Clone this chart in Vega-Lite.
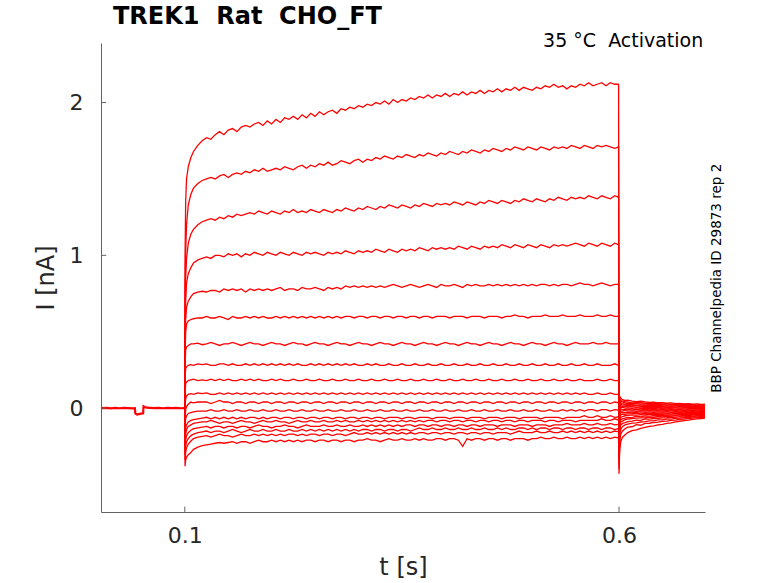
{
  "$schema": "https://vega.github.io/schema/vega-lite/v6.json",
  "width": 604,
  "height": 469,
  "autosize": {"type": "none"},
  "padding": {"left": 101, "top": 43, "right": 73, "bottom": 71},
  "background": "white",
  "title": {
    "text": "TREK1\u00a0 Rat\u00a0 CHO_FT",
    "anchor": "start",
    "frame": "group",
    "dx": 12,
    "dy": 24,
    "offset": 8,
    "baseline": "alphabetic",
    "font": "DejaVu Sans",
    "fontSize": 24,
    "fontWeight": "bold",
    "color": "black"
  },
  "config": {
    "view": {"stroke": null},
    "axis": {
      "grid": false,
      "ticks": false,
      "domainColor": "#636363",
      "domainWidth": 1,
      "labelColor": "#262626",
      "titleColor": "#262626",
      "labelFont": "DejaVu Sans",
      "titleFont": "DejaVu Sans",
      "labelFontSize": 22,
      "titleFontSize": 24,
      "titleFontWeight": "normal"
    }
  },
  "datasets": {
    "ticks": [
      {"t": 0.1, "t2": 0.1, "I": -0.68, "I2": -0.645},
      {"t": 0.6, "t2": 0.6, "I": -0.68, "I2": -0.645},
      {"t": 0.0035, "t2": 0.0095, "I": 0, "I2": 0},
      {"t": 0.0035, "t2": 0.0095, "I": 1, "I2": 1},
      {"t": 0.0035, "t2": 0.0095, "I": 2, "I2": 2}
    ],
    "hold": [
      {"t": 0.0035, "I": 0.0}, {"t": 0.01, "I": 0.002}, {"t": 0.015, "I": -0.002}, {"t": 0.02, "I": 0.001},
      {"t": 0.025, "I": -0.001}, {"t": 0.03, "I": 0.002}, {"t": 0.035, "I": 0.0}, {"t": 0.04, "I": -0.002},
      {"t": 0.0425, "I": -0.001}, {"t": 0.043, "I": -0.035}, {"t": 0.045, "I": -0.042}, {"t": 0.048, "I": -0.038},
      {"t": 0.05, "I": -0.036}, {"t": 0.052, "I": -0.034}, {"t": 0.0525, "I": 0.012}, {"t": 0.054, "I": 0.008},
      {"t": 0.056, "I": 0.003}, {"t": 0.06, "I": 0.002}, {"t": 0.065, "I": 0.0}, {"t": 0.07, "I": 0.002},
      {"t": 0.075, "I": -0.001}, {"t": 0.08, "I": 0.001}, {"t": 0.085, "I": 0.0}, {"t": 0.09, "I": 0.002},
      {"t": 0.095, "I": -0.001}, {"t": 0.1, "I": 0.0}
    ],
    "steps": [
      {"t":0.1,"a":0,"b":0,"c":0,"d":0,"e":0,"f":0,"g":0,"h":0,"i":0,"j":0,"k":0,"l":0,"m":0,"n":0,"o":0,"p":0,"q":0,"r":0},
      {"t":0.1003,"a":1.0,"b":0.8,"c":0.62,"d":0.5,"e":0.4,"f":0.34,"g":0.28,"h":0.2,"i":0.1,"j":0.02,"k":-0.06,"l":-0.12,"m":-0.18,"n":-0.22,"o":-0.26,"p":-0.3,"q":-0.34,"r":-0.38},
      {"t":0.101,"a":1.35,"b":1.02,"c":0.85,"d":0.7,"e":0.58,"f":0.5,"g":0.38,"h":0.26,"i":0.16,"j":0.06,"k":-0.01,"l":-0.07,"m":-0.13,"n":-0.17,"o":-0.21,"p":-0.25,"q":-0.29,"r":-0.34},
      {"t":0.102,"a":1.5,"b":1.2,"c":0.98,"d":0.82,"e":0.66,"f":0.55,"g":0.4,"h":0.27,"i":0.17,"j":0.08,"k":0.01,"l":-0.05,"m":-0.11,"n":-0.14,"o":-0.18,"p":-0.22,"q":-0.26,"r":-0.32},
      {"t":0.104,"a":1.58,"b":1.33,"c":1.08,"d":0.88,"e":0.7,"f":0.57,"g":0.41,"h":0.28,"i":0.18,"j":0.09,"k":0.025,"l":-0.035,"m":-0.09,"n":-0.12,"o":-0.16,"p":-0.2,"q":-0.235,"r":-0.305},
      {"t":0.107,"a":1.64,"b":1.4,"c":1.14,"d":0.92,"e":0.73,"f":0.58,"g":0.42,"h":0.285,"i":0.185,"j":0.095,"k":0.04,"l":-0.03,"m":-0.08,"n":-0.11,"o":-0.145,"p":-0.18,"q":-0.215,"r":-0.29},
      {"t":0.11,"a":1.68,"b":1.44,"c":1.17,"d":0.95,"e":0.75,"f":0.585,"g":0.42,"h":0.28,"i":0.19,"j":0.09,"k":0.035,"l":-0.025,"m":-0.075,"n":-0.1,"o":-0.135,"p":-0.17,"q":-0.2,"r":-0.27},
      {"t":0.115,"a":1.72,"b":1.47,"c":1.2,"d":0.97,"e":0.76,"f":0.59,"g":0.425,"h":0.29,"i":0.18,"j":0.1,"k":0.04,"l":-0.02,"m":-0.07,"n":-0.095,"o":-0.13,"p":-0.16,"q":-0.19,"r":-0.255},
      {"t":0.12,"a":1.75,"b":1.49,"c":1.22,"d":0.98,"e":0.765,"f":0.59,"g":0.415,"h":0.285,"i":0.185,"j":0.095,"k":0.04,"l":-0.02,"m":-0.065,"n":-0.09,"o":-0.125,"p":-0.155,"q":-0.185,"r":-0.245},
      {"t":0.125,"a":1.77,"b":1.5,"c":1.23,"d":0.99,"e":0.76,"f":0.6,"g":0.42,"h":0.29,"i":0.18,"j":0.1,"k":0.04,"l":-0.02,"m":-0.06,"n":-0.09,"o":-0.12,"p":-0.15,"q":-0.18,"r":-0.24},
      {"t":0.13,"a":1.76,"b":1.51,"c":1.24,"d":0.98,"e":0.77,"f":0.59,"g":0.43,"h":0.28,"i":0.19,"j":0.09,"k":0.03,"l":-0.01,"m":-0.07,"n":-0.08,"o":-0.13,"p":-0.16,"q":-0.19,"r":-0.235},
      {"t":0.135,"a":1.79,"b":1.5,"c":1.23,"d":1.0,"e":0.77,"f":0.59,"g":0.42,"h":0.28,"i":0.18,"j":0.09,"k":0.04,"l":-0.02,"m":-0.06,"n":-0.09,"o":-0.12,"p":-0.15,"q":-0.18,"r":-0.23},
      {"t":0.14,"a":1.81,"b":1.52,"c":1.25,"d":1.0,"e":0.76,"f":0.6,"g":0.41,"h":0.29,"i":0.19,"j":0.1,"k":0.05,"l":-0.02,"m":-0.07,"n":-0.1,"o":-0.12,"p":-0.15,"q":-0.17,"r":-0.225},
      {"t":0.145,"a":1.79,"b":1.53,"c":1.24,"d":0.99,"e":0.78,"f":0.59,"g":0.42,"h":0.29,"i":0.18,"j":0.09,"k":0.04,"l":-0.01,"m":-0.06,"n":-0.09,"o":-0.13,"p":-0.16,"q":-0.18,"r":-0.23},
      {"t":0.15,"a":1.82,"b":1.51,"c":1.26,"d":1.01,"e":0.77,"f":0.58,"g":0.42,"h":0.28,"i":0.19,"j":0.1,"k":0.04,"l":-0.02,"m":-0.07,"n":-0.09,"o":-0.12,"p":-0.15,"q":-0.18,"r":-0.225},
      {"t":0.155,"a":1.83,"b":1.53,"c":1.25,"d":1.0,"e":0.78,"f":0.6,"g":0.43,"h":0.29,"i":0.18,"j":0.09,"k":0.03,"l":-0.02,"m":-0.06,"n":-0.1,"o":-0.12,"p":-0.14,"q":-0.19,"r":-0.22},
      {"t":0.16,"a":1.81,"b":1.54,"c":1.27,"d":1.01,"e":0.77,"f":0.59,"g":0.42,"h":0.28,"i":0.18,"j":0.1,"k":0.04,"l":-0.01,"m":-0.07,"n":-0.09,"o":-0.13,"p":-0.15,"q":-0.18,"r":-0.23},
      {"t":0.165,"a":1.84,"b":1.53,"c":1.26,"d":0.99,"e":0.78,"f":0.59,"g":0.41,"h":0.28,"i":0.19,"j":0.09,"k":0.04,"l":-0.02,"m":-0.06,"n":-0.08,"o":-0.12,"p":-0.16,"q":-0.17,"r":-0.22},
      {"t":0.17,"a":1.85,"b":1.55,"c":1.27,"d":1.01,"e":0.76,"f":0.6,"g":0.42,"h":0.29,"i":0.18,"j":0.1,"k":0.03,"l":-0.02,"m":-0.07,"n":-0.09,"o":-0.12,"p":-0.15,"q":-0.18,"r":-0.22},
      {"t":0.175,"a":1.84,"b":1.54,"c":1.28,"d":1.0,"e":0.78,"f":0.59,"g":0.43,"h":0.28,"i":0.19,"j":0.09,"k":0.04,"l":-0.01,"m":-0.06,"n":-0.09,"o":-0.13,"p":-0.14,"q":-0.18,"r":-0.23},
      {"t":0.18,"a":1.86,"b":1.56,"c":1.27,"d":1.02,"e":0.77,"f":0.6,"g":0.42,"h":0.29,"i":0.18,"j":0.1,"k":0.04,"l":-0.02,"m":-0.06,"n":-0.1,"o":-0.12,"p":-0.15,"q":-0.17,"r":-0.22},
      {"t":0.185,"a":1.87,"b":1.55,"c":1.29,"d":1.01,"e":0.78,"f":0.59,"g":0.42,"h":0.28,"i":0.19,"j":0.09,"k":0.03,"l":-0.02,"m":-0.07,"n":-0.09,"o":-0.11,"p":-0.15,"q":-0.18,"r":-0.21},
      {"t":0.19,"a":1.85,"b":1.57,"c":1.28,"d":1.0,"e":0.77,"f":0.6,"g":0.41,"h":0.29,"i":0.18,"j":0.1,"k":0.04,"l":-0.01,"m":-0.06,"n":-0.08,"o":-0.12,"p":-0.14,"q":-0.17,"r":-0.22},
      {"t":0.195,"a":1.88,"b":1.55,"c":1.27,"d":1.02,"e":0.78,"f":0.59,"g":0.42,"h":0.28,"i":0.18,"j":0.09,"k":0.04,"l":-0.02,"m":-0.07,"n":-0.09,"o":-0.12,"p":-0.15,"q":-0.18,"r":-0.22},
      {"t":0.2,"a":1.86,"b":1.56,"c":1.29,"d":1.01,"e":0.77,"f":0.59,"g":0.43,"h":0.29,"i":0.19,"j":0.1,"k":0.03,"l":-0.02,"m":-0.06,"n":-0.09,"o":-0.13,"p":-0.15,"q":-0.17,"r":-0.21},
      {"t":0.205,"a":1.89,"b":1.57,"c":1.28,"d":1.0,"e":0.78,"f":0.6,"g":0.42,"h":0.28,"i":0.18,"j":0.09,"k":0.04,"l":-0.01,"m":-0.06,"n":-0.08,"o":-0.12,"p":-0.14,"q":-0.18,"r":-0.22},
      {"t":0.21,"a":1.87,"b":1.56,"c":1.27,"d":1.02,"e":0.79,"f":0.59,"g":0.42,"h":0.29,"i":0.19,"j":0.1,"k":0.04,"l":-0.02,"m":-0.07,"n":-0.09,"o":-0.12,"p":-0.15,"q":-0.17,"r":-0.21},
      {"t":0.215,"a":1.9,"b":1.58,"c":1.29,"d":1.01,"e":0.77,"f":0.6,"g":0.41,"h":0.28,"i":0.18,"j":0.09,"k":0.03,"l":-0.02,"m":-0.06,"n":-0.09,"o":-0.11,"p":-0.15,"q":-0.18,"r":-0.22},
      {"t":0.22,"a":1.89,"b":1.57,"c":1.28,"d":1.0,"e":0.78,"f":0.59,"g":0.42,"h":0.29,"i":0.18,"j":0.1,"k":0.04,"l":-0.01,"m":-0.06,"n":-0.1,"o":-0.12,"p":-0.14,"q":-0.17,"r":-0.21},
      {"t":0.225,"a":1.91,"b":1.56,"c":1.3,"d":1.02,"e":0.78,"f":0.6,"g":0.43,"h":0.28,"i":0.19,"j":0.09,"k":0.04,"l":-0.02,"m":-0.07,"n":-0.09,"o":-0.12,"p":-0.15,"q":-0.17,"r":-0.22},
      {"t":0.23,"a":1.89,"b":1.58,"c":1.28,"d":1.01,"e":0.77,"f":0.59,"g":0.42,"h":0.29,"i":0.18,"j":0.1,"k":0.03,"l":-0.02,"m":-0.06,"n":-0.08,"o":-0.13,"p":-0.15,"q":-0.18,"r":-0.21},
      {"t":0.235,"a":1.92,"b":1.59,"c":1.29,"d":1.0,"e":0.79,"f":0.6,"g":0.42,"h":0.28,"i":0.18,"j":0.09,"k":0.04,"l":-0.01,"m":-0.06,"n":-0.09,"o":-0.12,"p":-0.14,"q":-0.17,"r":-0.22},
      {"t":0.24,"a":1.9,"b":1.57,"c":1.28,"d":1.02,"e":0.78,"f":0.59,"g":0.41,"h":0.28,"i":0.19,"j":0.1,"k":0.04,"l":-0.02,"m":-0.07,"n":-0.09,"o":-0.11,"p":-0.15,"q":-0.18,"r":-0.21},
      {"t":0.245,"a":1.93,"b":1.59,"c":1.3,"d":1.01,"e":0.78,"f":0.6,"g":0.42,"h":0.29,"i":0.18,"j":0.09,"k":0.03,"l":-0.02,"m":-0.06,"n":-0.08,"o":-0.12,"p":-0.14,"q":-0.17,"r":-0.21},
      {"t":0.25,"a":1.91,"b":1.58,"c":1.29,"d":1.02,"e":0.79,"f":0.59,"g":0.43,"h":0.28,"i":0.18,"j":0.1,"k":0.04,"l":-0.01,"m":-0.06,"n":-0.09,"o":-0.12,"p":-0.15,"q":-0.17,"r":-0.22},
      {"t":0.255,"a":1.94,"b":1.6,"c":1.28,"d":1.01,"e":0.78,"f":0.6,"g":0.42,"h":0.29,"i":0.19,"j":0.09,"k":0.04,"l":-0.02,"m":-0.07,"n":-0.09,"o":-0.12,"p":-0.14,"q":-0.18,"r":-0.21},
      {"t":0.26,"a":1.92,"b":1.59,"c":1.3,"d":1.0,"e":0.77,"f":0.59,"g":0.42,"h":0.28,"i":0.18,"j":0.1,"k":0.03,"l":-0.02,"m":-0.06,"n":-0.08,"o":-0.11,"p":-0.15,"q":-0.17,"r":-0.21},
      {"t":0.265,"a":1.94,"b":1.61,"c":1.29,"d":1.02,"e":0.79,"f":0.6,"g":0.41,"h":0.29,"i":0.18,"j":0.09,"k":0.04,"l":-0.01,"m":-0.06,"n":-0.09,"o":-0.12,"p":-0.14,"q":-0.17,"r":-0.22},
      {"t":0.27,"a":1.95,"b":1.59,"c":1.28,"d":1.01,"e":0.78,"f":0.59,"g":0.42,"h":0.28,"i":0.19,"j":0.1,"k":0.04,"l":-0.02,"m":-0.07,"n":-0.09,"o":-0.12,"p":-0.15,"q":-0.18,"r":-0.21},
      {"t":0.275,"a":1.93,"b":1.6,"c":1.3,"d":1.02,"e":0.79,"f":0.6,"g":0.43,"h":0.29,"i":0.18,"j":0.09,"k":0.03,"l":-0.02,"m":-0.06,"n":-0.08,"o":-0.11,"p":-0.14,"q":-0.17,"r":-0.21},
      {"t":0.28,"a":1.96,"b":1.62,"c":1.29,"d":1.01,"e":0.78,"f":0.59,"g":0.42,"h":0.28,"i":0.18,"j":0.1,"k":0.04,"l":-0.01,"m":-0.06,"n":-0.09,"o":-0.12,"p":-0.15,"q":-0.17,"r":-0.22},
      {"t":0.285,"a":1.95,"b":1.61,"c":1.31,"d":1.03,"e":0.8,"f":0.6,"g":0.42,"h":0.29,"i":0.19,"j":0.09,"k":0.04,"l":-0.02,"m":-0.07,"n":-0.08,"o":-0.12,"p":-0.14,"q":-0.18,"r":-0.21},
      {"t":0.29,"a":1.97,"b":1.6,"c":1.3,"d":1.02,"e":0.79,"f":0.6,"g":0.41,"h":0.28,"i":0.18,"j":0.1,"k":0.03,"l":-0.02,"m":-0.06,"n":-0.09,"o":-0.11,"p":-0.15,"q":-0.17,"r":-0.21},
      {"t":0.295,"a":1.96,"b":1.62,"c":1.29,"d":1.01,"e":0.8,"f":0.59,"g":0.42,"h":0.29,"i":0.18,"j":0.09,"k":0.04,"l":-0.01,"m":-0.06,"n":-0.09,"o":-0.12,"p":-0.14,"q":-0.16,"r":-0.22},
      {"t":0.3,"a":1.98,"b":1.63,"c":1.31,"d":1.03,"e":0.79,"f":0.6,"g":0.43,"h":0.28,"i":0.19,"j":0.1,"k":0.04,"l":-0.02,"m":-0.07,"n":-0.08,"o":-0.12,"p":-0.15,"q":-0.17,"r":-0.21},
      {"t":0.305,"a":1.97,"b":1.61,"c":1.3,"d":1.02,"e":0.8,"f":0.6,"g":0.42,"h":0.28,"i":0.18,"j":0.09,"k":0.03,"l":-0.02,"m":-0.06,"n":-0.09,"o":-0.11,"p":-0.14,"q":-0.17,"r":-0.21},
      {"t":0.31,"a":1.99,"b":1.63,"c":1.32,"d":1.03,"e":0.79,"f":0.59,"g":0.42,"h":0.29,"i":0.18,"j":0.1,"k":0.04,"l":-0.01,"m":-0.06,"n":-0.08,"o":-0.12,"p":-0.14,"q":-0.16,"r":-0.2},
      {"t":0.315,"a":1.98,"b":1.62,"c":1.31,"d":1.02,"e":0.8,"f":0.6,"g":0.41,"h":0.28,"i":0.19,"j":0.09,"k":0.04,"l":-0.02,"m":-0.07,"n":-0.09,"o":-0.11,"p":-0.15,"q":-0.17,"r":-0.21},
      {"t":0.32,"a":2.0,"b":1.64,"c":1.3,"d":1.04,"e":0.79,"f":0.6,"g":0.42,"h":0.29,"i":0.18,"j":0.1,"k":0.03,"l":-0.02,"m":-0.06,"n":-0.08,"o":-0.12,"p":-0.14,"q":-0.16,"r":-0.21},
      {"t":0.325,"a":1.99,"b":1.63,"c":1.32,"d":1.03,"e":0.8,"f":0.59,"g":0.43,"h":0.28,"i":0.18,"j":0.09,"k":0.04,"l":-0.01,"m":-0.06,"n":-0.09,"o":-0.11,"p":-0.14,"q":-0.17,"r":-0.22},
      {"t":0.33,"a":2.01,"b":1.65,"c":1.31,"d":1.02,"e":0.79,"f":0.6,"g":0.42,"h":0.28,"i":0.19,"j":0.1,"k":0.04,"l":-0.02,"m":-0.07,"n":-0.08,"o":-0.12,"p":-0.15,"q":-0.16,"r":-0.21},
      {"t":0.335,"a":1.99,"b":1.64,"c":1.33,"d":1.04,"e":0.8,"f":0.6,"g":0.42,"h":0.29,"i":0.18,"j":0.09,"k":0.03,"l":-0.02,"m":-0.06,"n":-0.09,"o":-0.11,"p":-0.14,"q":-0.17,"r":-0.2},
      {"t":0.34,"a":2.02,"b":1.63,"c":1.32,"d":1.03,"e":0.81,"f":0.59,"g":0.41,"h":0.28,"i":0.18,"j":0.1,"k":0.04,"l":-0.01,"m":-0.06,"n":-0.08,"o":-0.12,"p":-0.14,"q":-0.16,"r":-0.21},
      {"t":0.345,"a":2.0,"b":1.65,"c":1.31,"d":1.02,"e":0.8,"f":0.6,"g":0.42,"h":0.28,"i":0.19,"j":0.09,"k":0.04,"l":-0.02,"m":-0.06,"n":-0.09,"o":-0.11,"p":-0.15,"q":-0.17,"r":-0.21},
      {"t":0.35,"a":2.02,"b":1.64,"c":1.33,"d":1.04,"e":0.79,"f":0.6,"g":0.43,"h":0.29,"i":0.18,"j":0.1,"k":0.03,"l":-0.02,"m":-0.07,"n":-0.08,"o":-0.12,"p":-0.14,"q":-0.16,"r":-0.2},
      {"t":0.355,"a":2.01,"b":1.66,"c":1.32,"d":1.03,"e":0.8,"f":0.59,"g":0.42,"h":0.28,"i":0.18,"j":0.09,"k":0.04,"l":-0.01,"m":-0.06,"n":-0.09,"o":-0.11,"p":-0.14,"q":-0.17,"r":-0.21},
      {"t":0.36,"a":2.03,"b":1.65,"c":1.31,"d":1.04,"e":0.81,"f":0.6,"g":0.42,"h":0.28,"i":0.19,"j":0.1,"k":0.04,"l":-0.02,"m":-0.06,"n":-0.08,"o":-0.11,"p":-0.15,"q":-0.16,"r":-0.21},
      {"t":0.365,"a":2.02,"b":1.64,"c":1.33,"d":1.03,"e":0.8,"f":0.6,"g":0.41,"h":0.29,"i":0.18,"j":0.09,"k":0.03,"l":-0.02,"m":-0.07,"n":-0.09,"o":-0.12,"p":-0.14,"q":-0.17,"r":-0.2},
      {"t":0.37,"a":2.04,"b":1.66,"c":1.32,"d":1.05,"e":0.79,"f":0.59,"g":0.42,"h":0.28,"i":0.18,"j":0.1,"k":0.04,"l":-0.01,"m":-0.06,"n":-0.08,"o":-0.11,"p":-0.13,"q":-0.16,"r":-0.21},
      {"t":0.375,"a":2.03,"b":1.65,"c":1.34,"d":1.04,"e":0.8,"f":0.6,"g":0.43,"h":0.28,"i":0.19,"j":0.09,"k":0.04,"l":-0.02,"m":-0.06,"n":-0.09,"o":-0.11,"p":-0.14,"q":-0.16,"r":-0.2},
      {"t":0.38,"a":2.05,"b":1.67,"c":1.33,"d":1.03,"e":0.81,"f":0.6,"g":0.42,"h":0.29,"i":0.18,"j":0.1,"k":0.03,"l":-0.02,"m":-0.06,"n":-0.08,"o":-0.12,"p":-0.14,"q":-0.17,"r":-0.21},
      {"t":0.385,"a":2.03,"b":1.66,"c":1.32,"d":1.05,"e":0.8,"f":0.59,"g":0.42,"h":0.28,"i":0.18,"j":0.09,"k":0.04,"l":-0.01,"m":-0.07,"n":-0.08,"o":-0.11,"p":-0.13,"q":-0.16,"r":-0.21},
      {"t":0.39,"a":2.05,"b":1.65,"c":1.34,"d":1.04,"e":0.79,"f":0.6,"g":0.41,"h":0.28,"i":0.19,"j":0.1,"k":0.04,"l":-0.02,"m":-0.06,"n":-0.09,"o":-0.11,"p":-0.14,"q":-0.16,"r":-0.2},
      {"t":0.395,"a":2.04,"b":1.67,"c":1.33,"d":1.05,"e":0.81,"f":0.6,"g":0.42,"h":0.29,"i":0.18,"j":0.09,"k":0.03,"l":-0.02,"m":-0.06,"n":-0.08,"o":-0.12,"p":-0.14,"q":-0.17,"r":-0.2},
      {"t":0.4,"a":2.06,"b":1.66,"c":1.34,"d":1.04,"e":0.8,"f":0.6,"g":0.43,"h":0.28,"i":0.18,"j":0.1,"k":0.04,"l":-0.01,"m":-0.06,"n":-0.08,"o":-0.11,"p":-0.13,"q":-0.16,"r":-0.21},
      {"t":0.405,"a":2.04,"b":1.68,"c":1.33,"d":1.05,"e":0.8,"f":0.59,"g":0.42,"h":0.28,"i":0.19,"j":0.09,"k":0.04,"l":-0.02,"m":-0.07,"n":-0.09,"o":-0.11,"p":-0.14,"q":-0.16,"r":-0.2},
      {"t":0.41,"a":2.06,"b":1.67,"c":1.35,"d":1.04,"e":0.81,"f":0.6,"g":0.42,"h":0.29,"i":0.18,"j":0.1,"k":0.03,"l":-0.02,"m":-0.06,"n":-0.08,"o":-0.12,"p":-0.14,"q":-0.17,"r":-0.2},
      {"t":0.415,"a":2.05,"b":1.66,"c":1.34,"d":1.06,"e":0.8,"f":0.6,"g":0.41,"h":0.28,"i":0.18,"j":0.09,"k":0.04,"l":-0.01,"m":-0.06,"n":-0.08,"o":-0.11,"p":-0.13,"q":-0.16,"r":-0.21},
      {"t":0.42,"a":2.07,"b":1.68,"c":1.33,"d":1.05,"e":0.79,"f":0.6,"g":0.42,"h":0.28,"i":0.19,"j":0.1,"k":0.04,"l":-0.02,"m":-0.06,"n":-0.09,"o":-0.11,"p":-0.14,"q":-0.16,"r":-0.25},
      {"t":0.425,"a":2.05,"b":1.67,"c":1.35,"d":1.04,"e":0.81,"f":0.59,"g":0.43,"h":0.29,"i":0.18,"j":0.09,"k":0.03,"l":-0.02,"m":-0.07,"n":-0.08,"o":-0.12,"p":-0.14,"q":-0.17,"r":-0.2},
      {"t":0.43,"a":2.07,"b":1.69,"c":1.34,"d":1.06,"e":0.8,"f":0.6,"g":0.42,"h":0.28,"i":0.18,"j":0.1,"k":0.04,"l":-0.01,"m":-0.06,"n":-0.08,"o":-0.11,"p":-0.13,"q":-0.16,"r":-0.21},
      {"t":0.435,"a":2.06,"b":1.68,"c":1.33,"d":1.05,"e":0.81,"f":0.6,"g":0.42,"h":0.28,"i":0.19,"j":0.09,"k":0.04,"l":-0.02,"m":-0.06,"n":-0.09,"o":-0.11,"p":-0.14,"q":-0.16,"r":-0.2},
      {"t":0.44,"a":2.08,"b":1.67,"c":1.35,"d":1.04,"e":0.8,"f":0.6,"g":0.41,"h":0.29,"i":0.18,"j":0.1,"k":0.03,"l":-0.02,"m":-0.06,"n":-0.08,"o":-0.12,"p":-0.14,"q":-0.17,"r":-0.2},
      {"t":0.445,"a":2.06,"b":1.69,"c":1.34,"d":1.06,"e":0.8,"f":0.59,"g":0.42,"h":0.28,"i":0.18,"j":0.09,"k":0.04,"l":-0.01,"m":-0.07,"n":-0.08,"o":-0.11,"p":-0.13,"q":-0.16,"r":-0.21},
      {"t":0.45,"a":2.08,"b":1.68,"c":1.36,"d":1.05,"e":0.81,"f":0.6,"g":0.43,"h":0.28,"i":0.19,"j":0.1,"k":0.04,"l":-0.02,"m":-0.06,"n":-0.09,"o":-0.11,"p":-0.14,"q":-0.16,"r":-0.2},
      {"t":0.455,"a":2.07,"b":1.7,"c":1.35,"d":1.06,"e":0.8,"f":0.6,"g":0.42,"h":0.29,"i":0.18,"j":0.09,"k":0.03,"l":-0.02,"m":-0.06,"n":-0.08,"o":-0.11,"p":-0.14,"q":-0.17,"r":-0.2},
      {"t":0.46,"a":2.09,"b":1.69,"c":1.34,"d":1.05,"e":0.81,"f":0.6,"g":0.42,"h":0.28,"i":0.18,"j":0.1,"k":0.04,"l":-0.01,"m":-0.06,"n":-0.08,"o":-0.12,"p":-0.13,"q":-0.16,"r":-0.21},
      {"t":0.465,"a":2.07,"b":1.68,"c":1.36,"d":1.07,"e":0.8,"f":0.59,"g":0.41,"h":0.28,"i":0.19,"j":0.09,"k":0.04,"l":-0.02,"m":-0.07,"n":-0.09,"o":-0.11,"p":-0.14,"q":-0.16,"r":-0.2},
      {"t":0.47,"a":2.09,"b":1.7,"c":1.35,"d":1.06,"e":0.81,"f":0.6,"g":0.42,"h":0.29,"i":0.18,"j":0.1,"k":0.03,"l":-0.02,"m":-0.06,"n":-0.08,"o":-0.11,"p":-0.13,"q":-0.16,"r":-0.2},
      {"t":0.475,"a":2.08,"b":1.69,"c":1.34,"d":1.05,"e":0.8,"f":0.6,"g":0.43,"h":0.28,"i":0.18,"j":0.09,"k":0.04,"l":-0.01,"m":-0.06,"n":-0.08,"o":-0.11,"p":-0.14,"q":-0.17,"r":-0.21},
      {"t":0.48,"a":2.1,"b":1.71,"c":1.36,"d":1.07,"e":0.81,"f":0.61,"g":0.42,"h":0.28,"i":0.19,"j":0.1,"k":0.04,"l":-0.02,"m":-0.06,"n":-0.09,"o":-0.12,"p":-0.14,"q":-0.16,"r":-0.2},
      {"t":0.485,"a":2.08,"b":1.7,"c":1.35,"d":1.06,"e":0.8,"f":0.6,"g":0.42,"h":0.29,"i":0.18,"j":0.09,"k":0.03,"l":-0.02,"m":-0.07,"n":-0.08,"o":-0.11,"p":-0.13,"q":-0.15,"r":-0.2},
      {"t":0.49,"a":2.1,"b":1.69,"c":1.37,"d":1.05,"e":0.81,"f":0.6,"g":0.41,"h":0.28,"i":0.18,"j":0.1,"k":0.04,"l":-0.01,"m":-0.06,"n":-0.08,"o":-0.11,"p":-0.13,"q":-0.16,"r":-0.2},
      {"t":0.495,"a":2.09,"b":1.71,"c":1.36,"d":1.07,"e":0.8,"f":0.59,"g":0.42,"h":0.28,"i":0.19,"j":0.09,"k":0.04,"l":-0.02,"m":-0.06,"n":-0.09,"o":-0.11,"p":-0.14,"q":-0.16,"r":-0.21},
      {"t":0.5,"a":2.08,"b":1.7,"c":1.35,"d":1.06,"e":0.81,"f":0.6,"g":0.43,"h":0.29,"i":0.18,"j":0.1,"k":0.03,"l":-0.02,"m":-0.06,"n":-0.08,"o":-0.12,"p":-0.13,"q":-0.16,"r":-0.2},
      {"t":0.505,"a":2.1,"b":1.69,"c":1.37,"d":1.05,"e":0.8,"f":0.6,"g":0.42,"h":0.28,"i":0.18,"j":0.09,"k":0.04,"l":-0.01,"m":-0.06,"n":-0.08,"o":-0.11,"p":-0.14,"q":-0.15,"r":-0.2},
      {"t":0.51,"a":2.09,"b":1.71,"c":1.36,"d":1.07,"e":0.81,"f":0.6,"g":0.42,"h":0.28,"i":0.19,"j":0.1,"k":0.04,"l":-0.02,"m":-0.07,"n":-0.08,"o":-0.11,"p":-0.13,"q":-0.16,"r":-0.19},
      {"t":0.515,"a":2.11,"b":1.7,"c":1.35,"d":1.06,"e":0.81,"f":0.61,"g":0.41,"h":0.29,"i":0.18,"j":0.09,"k":0.03,"l":-0.02,"m":-0.06,"n":-0.09,"o":-0.11,"p":-0.13,"q":-0.16,"r":-0.2},
      {"t":0.52,"a":2.1,"b":1.69,"c":1.37,"d":1.05,"e":0.8,"f":0.6,"g":0.42,"h":0.28,"i":0.18,"j":0.1,"k":0.04,"l":-0.01,"m":-0.06,"n":-0.08,"o":-0.12,"p":-0.14,"q":-0.15,"r":-0.2},
      {"t":0.525,"a":2.12,"b":1.71,"c":1.36,"d":1.07,"e":0.81,"f":0.6,"g":0.43,"h":0.28,"i":0.19,"j":0.09,"k":0.04,"l":-0.02,"m":-0.06,"n":-0.08,"o":-0.11,"p":-0.13,"q":-0.16,"r":-0.19},
      {"t":0.53,"a":2.1,"b":1.7,"c":1.38,"d":1.06,"e":0.8,"f":0.6,"g":0.42,"h":0.29,"i":0.18,"j":0.1,"k":0.03,"l":-0.02,"m":-0.06,"n":-0.09,"o":-0.11,"p":-0.13,"q":-0.16,"r":-0.2},
      {"t":0.535,"a":2.11,"b":1.71,"c":1.37,"d":1.07,"e":0.81,"f":0.61,"g":0.42,"h":0.28,"i":0.18,"j":0.09,"k":0.04,"l":-0.01,"m":-0.07,"n":-0.08,"o":-0.11,"p":-0.14,"q":-0.15,"r":-0.2},
      {"t":0.54,"a":2.09,"b":1.7,"c":1.36,"d":1.06,"e":0.81,"f":0.6,"g":0.41,"h":0.28,"i":0.19,"j":0.1,"k":0.04,"l":-0.02,"m":-0.06,"n":-0.08,"o":-0.1,"p":-0.13,"q":-0.16,"r":-0.19},
      {"t":0.545,"a":2.11,"b":1.72,"c":1.38,"d":1.07,"e":0.8,"f":0.6,"g":0.42,"h":0.29,"i":0.18,"j":0.09,"k":0.03,"l":-0.01,"m":-0.06,"n":-0.08,"o":-0.11,"p":-0.13,"q":-0.15,"r":-0.2},
      {"t":0.55,"a":2.1,"b":1.71,"c":1.37,"d":1.08,"e":0.81,"f":0.6,"g":0.43,"h":0.28,"i":0.18,"j":0.1,"k":0.04,"l":-0.02,"m":-0.06,"n":-0.09,"o":-0.11,"p":-0.14,"q":-0.16,"r":-0.2},
      {"t":0.555,"a":2.12,"b":1.7,"c":1.38,"d":1.07,"e":0.82,"f":0.61,"g":0.42,"h":0.28,"i":0.19,"j":0.09,"k":0.04,"l":-0.01,"m":-0.06,"n":-0.08,"o":-0.11,"p":-0.13,"q":-0.15,"r":-0.19},
      {"t":0.56,"a":2.11,"b":1.72,"c":1.37,"d":1.06,"e":0.81,"f":0.6,"g":0.42,"h":0.29,"i":0.18,"j":0.1,"k":0.03,"l":-0.02,"m":-0.05,"n":-0.08,"o":-0.1,"p":-0.13,"q":-0.16,"r":-0.2},
      {"t":0.565,"a":2.13,"b":1.71,"c":1.39,"d":1.08,"e":0.81,"f":0.6,"g":0.42,"h":0.28,"i":0.18,"j":0.09,"k":0.04,"l":-0.01,"m":-0.06,"n":-0.08,"o":-0.11,"p":-0.14,"q":-0.15,"r":-0.19},
      {"t":0.57,"a":2.11,"b":1.7,"c":1.38,"d":1.07,"e":0.8,"f":0.6,"g":0.43,"h":0.28,"i":0.18,"j":0.09,"k":0.04,"l":-0.01,"m":-0.06,"n":-0.08,"o":-0.11,"p":-0.13,"q":-0.16,"r":-0.2},
      {"t":0.575,"a":2.12,"b":1.72,"c":1.37,"d":1.06,"e":0.81,"f":0.61,"g":0.42,"h":0.29,"i":0.19,"j":0.1,"k":0.03,"l":-0.02,"m":-0.05,"n":-0.08,"o":-0.1,"p":-0.13,"q":-0.15,"r":-0.19},
      {"t":0.58,"a":2.13,"b":1.71,"c":1.39,"d":1.08,"e":0.82,"f":0.6,"g":0.42,"h":0.28,"i":0.18,"j":0.09,"k":0.04,"l":-0.01,"m":-0.06,"n":-0.07,"o":-0.11,"p":-0.14,"q":-0.16,"r":-0.2},
      {"t":0.585,"a":2.11,"b":1.72,"c":1.38,"d":1.07,"e":0.81,"f":0.6,"g":0.43,"h":0.28,"i":0.18,"j":0.09,"k":0.04,"l":-0.01,"m":-0.06,"n":-0.08,"o":-0.11,"p":-0.13,"q":-0.15,"r":-0.19},
      {"t":0.59,"a":2.13,"b":1.71,"c":1.37,"d":1.06,"e":0.8,"f":0.61,"g":0.42,"h":0.28,"i":0.19,"j":0.1,"k":0.03,"l":-0.02,"m":-0.05,"n":-0.08,"o":-0.1,"p":-0.13,"q":-0.16,"r":-0.2},
      {"t":0.595,"a":2.12,"b":1.7,"c":1.39,"d":1.08,"e":0.81,"f":0.6,"g":0.42,"h":0.29,"i":0.18,"j":0.09,"k":0.04,"l":-0.01,"m":-0.06,"n":-0.07,"o":-0.11,"p":-0.14,"q":-0.15,"r":-0.19},
      {"t":0.5995,"a":2.12,"b":1.71,"c":1.38,"d":1.07,"e":0.81,"f":0.6,"g":0.42,"h":0.28,"i":0.18,"j":0.09,"k":0.035,"l":-0.013,"m":-0.057,"n":-0.079,"o":-0.107,"p":-0.133,"q":-0.155,"r":-0.195},
      {"t":0.6,"a":-0.43,"b":-0.4,"c":-0.37,"d":-0.34,"e":-0.31,"f":-0.28,"g":-0.26,"h":-0.24,"i":-0.22,"j":-0.2,"k":-0.17,"l":-0.14,"m":-0.11,"n":-0.08,"o":-0.05,"p":-0.02,"q":0.01,"r":0.04},
      {"t":0.6005,"a":-0.32,"b":-0.28,"c":-0.25,"d":-0.22,"e":-0.2,"f":-0.18,"g":-0.16,"h":-0.14,"i":-0.12,"j":-0.1,"k":-0.08,"l":-0.06,"m":-0.04,"n":-0.02,"o":0.0,"p":0.02,"q":0.04,"r":0.06},
      {"t":0.601,"a":-0.26,"b":-0.2,"c":-0.16,"d":-0.13,"e":-0.105,"f":-0.085,"g":-0.065,"h":-0.05,"i":-0.035,"j":-0.02,"k":-0.005,"l":0.01,"m":0.02,"n":0.03,"o":0.04,"p":0.05,"q":0.06,"r":0.075},
      {"t":0.602,"a":-0.22,"b":-0.17,"c":-0.14,"d":-0.11,"e":-0.09,"f":-0.075,"g":-0.06,"h":-0.045,"i":-0.03,"j":-0.02,"k":-0.005,"l":0.005,"m":0.015,"n":0.025,"o":0.035,"p":0.045,"q":0.05,"r":0.065},
      {"t":0.604,"a":-0.19,"b":-0.15,"c":-0.12,"d":-0.1,"e":-0.085,"f":-0.07,"g":-0.055,"h":-0.04,"i":-0.03,"j":-0.02,"k":-0.01,"l":0.005,"m":0.01,"n":0.02,"o":0.03,"p":0.04,"q":0.045,"r":0.055},
      {"t":0.607,"a":-0.175,"b":-0.135,"c":-0.11,"d":-0.095,"e":-0.075,"f":-0.065,"g":-0.05,"h":-0.04,"i":-0.03,"j":-0.015,"k":-0.01,"l":0.0,"m":0.012,"n":0.02,"o":0.025,"p":0.035,"q":0.042,"r":0.05},
      {"t":0.61,"a":-0.16,"b":-0.125,"c":-0.105,"d":-0.088,"e":-0.072,"f":-0.06,"g":-0.048,"h":-0.038,"i":-0.028,"j":-0.02,"k":-0.008,"l":0.002,"m":0.008,"n":0.017,"o":0.025,"p":0.03,"q":0.04,"r":0.052},
      {"t":0.615,"a":-0.148,"b":-0.122,"c":-0.098,"d":-0.085,"e":-0.068,"f":-0.062,"g":-0.044,"h":-0.036,"i":-0.031,"j":-0.018,"k":-0.011,"l":-0.002,"m":0.01,"n":0.014,"o":0.022,"p":0.031,"q":0.034,"r":0.046},
      {"t":0.62,"a":-0.142,"b":-0.108,"c":-0.096,"d":-0.078,"e":-0.066,"f":-0.053,"g":-0.046,"h":-0.033,"i":-0.027,"j":-0.021,"k":-0.009,"l":0.001,"m":0.005,"n":0.016,"o":0.019,"p":0.03,"q":0.036,"r":0.043},
      {"t":0.625,"a":-0.133,"b":-0.112,"c":-0.091,"d":-0.08,"e":-0.064,"f":-0.057,"g":-0.042,"h":-0.038,"i":-0.025,"j":-0.017,"k":-0.012,"l":-0.002,"m":0.008,"n":0.012,"o":0.021,"p":0.026,"q":0.035,"r":0.045},
      {"t":0.63,"a":-0.126,"b":-0.1,"c":-0.088,"d":-0.071,"e":-0.063,"f":-0.051,"g":-0.044,"h":-0.033,"i":-0.028,"j":-0.019,"k":-0.009,"l":-0.001,"m":0.004,"n":0.013,"o":0.017,"p":0.027,"q":0.031,"r":0.04},
      {"t":0.635,"a":-0.119,"b":-0.099,"c":-0.083,"d":-0.072,"e":-0.059,"f":-0.052,"g":-0.04,"h":-0.035,"i":-0.025,"j":-0.017,"k":-0.011,"l":-0.004,"m":0.006,"n":0.01,"o":0.019,"p":0.024,"q":0.032,"r":0.038},
      {"t":0.64,"a":-0.116,"b":-0.094,"c":-0.082,"d":-0.068,"e":-0.06,"f":-0.049,"g":-0.042,"h":-0.032,"i":-0.027,"j":-0.019,"k":-0.009,"l":-0.002,"m":0.003,"n":0.012,"o":0.016,"p":0.025,"q":0.029,"r":0.039},
      {"t":0.645,"a":-0.109,"b":-0.092,"c":-0.077,"d":-0.067,"e":-0.055,"f":-0.05,"g":-0.039,"h":-0.034,"i":-0.024,"j":-0.017,"k":-0.012,"l":-0.005,"m":0.004,"n":0.009,"o":0.017,"p":0.022,"q":0.03,"r":0.035},
      {"t":0.65,"a":-0.106,"b":-0.087,"c":-0.077,"d":-0.064,"e":-0.057,"f":-0.047,"g":-0.04,"h":-0.031,"i":-0.026,"j":-0.019,"k":-0.01,"l":-0.003,"m":0.002,"n":0.01,"o":0.014,"p":0.023,"q":0.027,"r":0.036},
      {"t":0.655,"a":-0.1,"b":-0.085,"c":-0.072,"d":-0.063,"e":-0.052,"f":-0.048,"g":-0.037,"h":-0.033,"i":-0.023,"j":-0.016,"k":-0.012,"l":-0.005,"m":0.003,"n":0.007,"o":0.015,"p":0.02,"q":0.028,"r":0.032},
      {"t":0.66,"a":-0.096,"b":-0.08,"c":-0.072,"d":-0.06,"e":-0.054,"f":-0.045,"g":-0.039,"h":-0.03,"i":-0.026,"j":-0.018,"k":-0.01,"l":-0.004,"m":0.001,"n":0.009,"o":0.013,"p":0.021,"q":0.025,"r":0.034},
      {"t":0.665,"a":-0.09,"b":-0.078,"c":-0.067,"d":-0.06,"e":-0.05,"f":-0.045,"g":-0.035,"h":-0.032,"i":-0.023,"j":-0.016,"k":-0.012,"l":-0.006,"m":0.002,"n":0.006,"o":0.013,"p":0.018,"q":0.026,"r":0.03},
      {"t":0.67,"a":-0.086,"b":-0.073,"c":-0.066,"d":-0.056,"e":-0.051,"f":-0.043,"g":-0.037,"h":-0.029,"i":-0.025,"j":-0.018,"k":-0.01,"l":-0.005,"m":0.0,"n":0.008,"o":0.011,"p":0.019,"q":0.023,"r":0.031},
      {"t":0.675,"a":-0.082,"b":-0.072,"c":-0.062,"d":-0.057,"e":-0.047,"f":-0.043,"g":-0.034,"h":-0.031,"i":-0.022,"j":-0.016,"k":-0.013,"l":-0.006,"m":0.001,"n":0.005,"o":0.012,"p":0.016,"q":0.024,"r":0.027},
      {"t":0.68,"a":-0.079,"b":-0.068,"c":-0.063,"d":-0.053,"e":-0.049,"f":-0.041,"g":-0.036,"h":-0.028,"i":-0.025,"j":-0.018,"k":-0.011,"l":-0.006,"m":-0.001,"n":0.007,"o":0.01,"p":0.018,"q":0.022,"r":0.029},
      {"t":0.685,"a":-0.074,"b":-0.066,"c":-0.058,"d":-0.054,"e":-0.045,"f":-0.041,"g":-0.033,"h":-0.03,"i":-0.022,"j":-0.016,"k":-0.013,"l":-0.007,"m":0.0,"n":0.004,"o":0.011,"p":0.015,"q":0.022,"r":0.026},
      {"t":0.69,"a":-0.071,"b":-0.062,"c":-0.058,"d":-0.05,"e":-0.046,"f":-0.039,"g":-0.035,"h":-0.027,"i":-0.024,"j":-0.018,"k":-0.011,"l":-0.007,"m":-0.002,"n":0.006,"o":0.009,"p":0.017,"q":0.02,"r":0.027},
      {"t":0.695,"a":-0.068,"b":-0.061,"c":-0.054,"d":-0.05,"e":-0.043,"f":-0.04,"g":-0.032,"h":-0.029,"i":-0.022,"j":-0.016,"k":-0.013,"l":-0.008,"m":0.0,"n":0.003,"o":0.01,"p":0.014,"q":0.021,"r":0.025},
      {"t":0.699,"a":-0.066,"b":-0.059,"c":-0.055,"d":-0.048,"e":-0.045,"f":-0.038,"g":-0.034,"h":-0.027,"i":-0.023,"j":-0.017,"k":-0.011,"l":-0.007,"m":-0.001,"n":0.005,"o":0.008,"p":0.016,"q":0.019,"r":0.026}
    ]
  },
  "layer": [
    {
      "data": {"name": "hold"},
      "mark": {"type": "line", "color": "#ff0000", "strokeWidth": 2.2, "clip": true},
      "encoding": {
        "x": {
          "field": "t",
          "type": "quantitative",
          "scale": {"domain": [0.0035, 0.699], "nice": false, "zero": false},
          "axis": {"values": [0.1, 0.6], "format": ".1f", "title": "t [s]", "labelPadding": 13, "titlePadding": 9}
        },
        "y": {
          "field": "I",
          "type": "quantitative",
          "scale": {"domain": [-0.68, 2.39], "nice": false, "zero": false},
          "axis": {"values": [0, 1, 2], "format": "d", "title": "I [nA]", "labelPadding": 18, "titlePadding": 11}
        }
      }
    },
    {
      "data": {"name": "steps"},
      "transform": [
        {"fold": ["a", "b", "c", "d", "e", "f", "g", "h", "i", "j", "k", "l", "m", "n", "o", "p", "q", "r"], "as": ["trace", "I"]}
      ],
      "mark": {"type": "line", "color": "#ff0000", "strokeWidth": 1.3, "clip": true},
      "encoding": {
        "x": {"field": "t", "type": "quantitative", "scale": {"domain": [0.0035, 0.699], "nice": false, "zero": false}},
        "y": {"field": "I", "type": "quantitative", "scale": {"domain": [-0.68, 2.39], "nice": false, "zero": false}},
        "detail": {"field": "trace", "type": "nominal"}
      }
    },
    {
      "data": {"name": "ticks"},
      "mark": {"type": "rule", "color": "#636363", "strokeWidth": 1},
      "encoding": {
        "x": {"field": "t", "type": "quantitative"},
        "x2": {"field": "t2"},
        "y": {"field": "I", "type": "quantitative"},
        "y2": {"field": "I2"}
      }
    },
    {
      "data": {"values": [{"label": "35 °C\u00a0 Activation"}]},
      "mark": {"type": "text", "align": "right", "baseline": "alphabetic", "font": "DejaVu Sans", "fontSize": 19, "color": "black"},
      "encoding": {
        "x": {"datum": 0.697, "type": "quantitative"},
        "y": {"datum": 2.363, "type": "quantitative"},
        "text": {"field": "label"}
      }
    },
    {
      "data": {"values": [{"label": "BBP Channelpedia ID 29873 rep 2"}]},
      "mark": {"type": "text", "align": "center", "baseline": "middle", "angle": 270, "font": "DejaVu Sans", "fontSize": 13.5, "color": "black"},
      "encoding": {
        "x": {"datum": 0.7125, "type": "quantitative"},
        "y": {"datum": 0.85, "type": "quantitative"},
        "text": {"field": "label"}
      }
    }
  ]
}
